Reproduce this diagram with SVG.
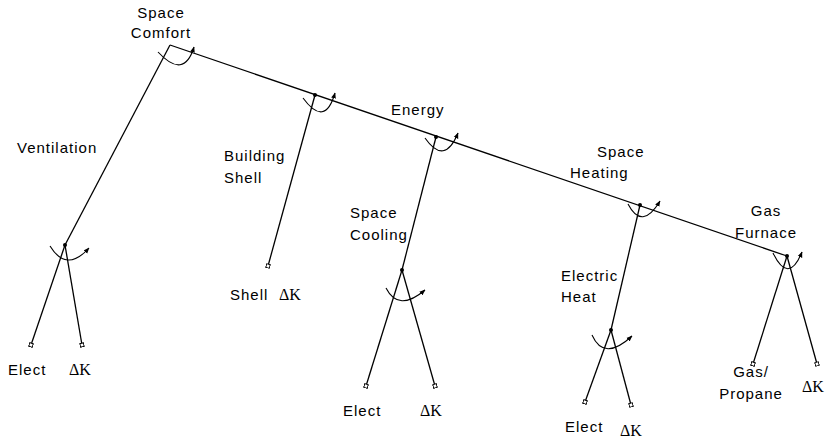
<svg xmlns="http://www.w3.org/2000/svg" width="827" height="439" viewBox="0 0 827 439">
<defs>
<marker id="arr" viewBox="0 0 10 10" refX="9" refY="5" markerWidth="6" markerHeight="6" orient="auto" markerUnits="userSpaceOnUse">
<path d="M0,1 L10,5 L0,9 Z" fill="#000"/>
</marker>
<marker id="leaf" viewBox="0 0 6 6" refX="3" refY="3" markerWidth="5" markerHeight="5" orient="auto" markerUnits="userSpaceOnUse">
<rect x="0.8" y="0.8" width="4.4" height="4.4" fill="#fff" stroke="#000" stroke-width="1.2"/>
</marker>
</defs>
<style>
.c{stroke:#000;stroke-width:1.3;fill:none}
.a{stroke:#000;stroke-width:1.1;fill:none;marker-end:url(#arr)}
.l{stroke:#000;stroke-width:1.3;fill:none;marker-end:url(#leaf)}
.t{font-family:"Liberation Sans",Arial,sans-serif;font-size:15px;letter-spacing:1px;fill:#000}
.s{font-family:"Liberation Serif","Times New Roman",serif;font-size:16px;fill:#000}
.d{fill:#000}
</style>
<rect width="827" height="439" fill="#fff"/>
<g id="connectors">
<path class="c" d="M170,45 L787,256"/>
<path class="c" d="M170,45 L65,245"/>
<path class="l" d="M65,245 L31,345"/>
<path class="l" d="M65,245 L82,345"/>
<path class="l" d="M315,95 L268,266"/>
<path class="c" d="M436,137 L402,270"/>
<path class="l" d="M402,270 L366,386"/>
<path class="l" d="M402,270 L435,386"/>
<path class="c" d="M640,205 L611,330"/>
<path class="l" d="M611,330 L585,402"/>
<path class="l" d="M611,330 L631,405"/>
<path class="l" d="M787,256 L753,364"/>
<path class="l" d="M787,256 L817,364"/>
<path class="a" d="M158,52 Q184,80 194,47"/>
<path class="a" d="M50,246 Q66.5,273 89,248"/>
<path class="a" d="M303,98 Q325,128 335,93"/>
<path class="a" d="M425,138 Q444.5,166 458,133"/>
<path class="a" d="M628,204 Q642,231 660,201"/>
<path class="a" d="M773,253 Q788.5,285 802,252"/>
<path class="a" d="M386,288 Q398.5,312.5 425,290"/>
<path class="a" d="M592,335 Q604,362 632,336"/>
</g>
<g id="space-comfort"><text class="t" x="161" y="18" text-anchor="middle">Space</text><text class="t" x="161" y="38" text-anchor="middle">Comfort</text></g>
<g id="ventilation"><text class="t" x="17" y="153">Ventilation</text><circle class="d" cx="65" cy="245" r="2"/></g>
<g id="building-shell"><text class="t" x="224" y="161">Building</text><text class="t" x="224" y="183">Shell</text><circle class="d" cx="315" cy="95" r="2"/></g>
<g id="energy"><text class="t" x="391" y="115">Energy</text><circle class="d" cx="436" cy="137" r="2"/></g>
<g id="space-cooling"><text class="t" x="350" y="218">Space</text><text class="t" x="350" y="240">Cooling</text><circle class="d" cx="402" cy="270" r="2"/></g>
<g id="space-heating"><text class="t" x="597" y="157">Space</text><text class="t" x="570" y="178">Heating</text><circle class="d" cx="640" cy="205" r="2"/></g>
<g id="gas-furnace"><text class="t" x="766" y="216" text-anchor="middle">Gas</text><text class="t" x="766" y="238" text-anchor="middle">Furnace</text><circle class="d" cx="787" cy="256" r="2"/></g>
<g id="electric-heat"><text class="t" x="561" y="281">Electric</text><text class="t" x="561" y="302">Heat</text><circle class="d" cx="611" cy="330" r="2"/></g>
<g id="vent-elect"><text class="t" x="8" y="375">Elect</text></g>
<g id="vent-dk"><text class="s" x="69" y="375">ΔK</text></g>
<g id="shell-dk"><text class="t" x="230" y="300">Shell</text><text class="s" x="279" y="300">ΔK</text></g>
<g id="cool-elect"><text class="t" x="343" y="416">Elect</text></g>
<g id="cool-dk"><text class="s" x="420" y="416">ΔK</text></g>
<g id="heat-elect"><text class="t" x="565" y="432">Elect</text></g>
<g id="heat-dk"><text class="s" x="620" y="436">ΔK</text></g>
<g id="gas-propane"><text class="t" x="751" y="377" text-anchor="middle">Gas/</text><text class="t" x="751" y="399" text-anchor="middle">Propane</text></g>
<g id="gas-dk"><text class="s" x="802" y="392">ΔK</text></g>
</svg>
